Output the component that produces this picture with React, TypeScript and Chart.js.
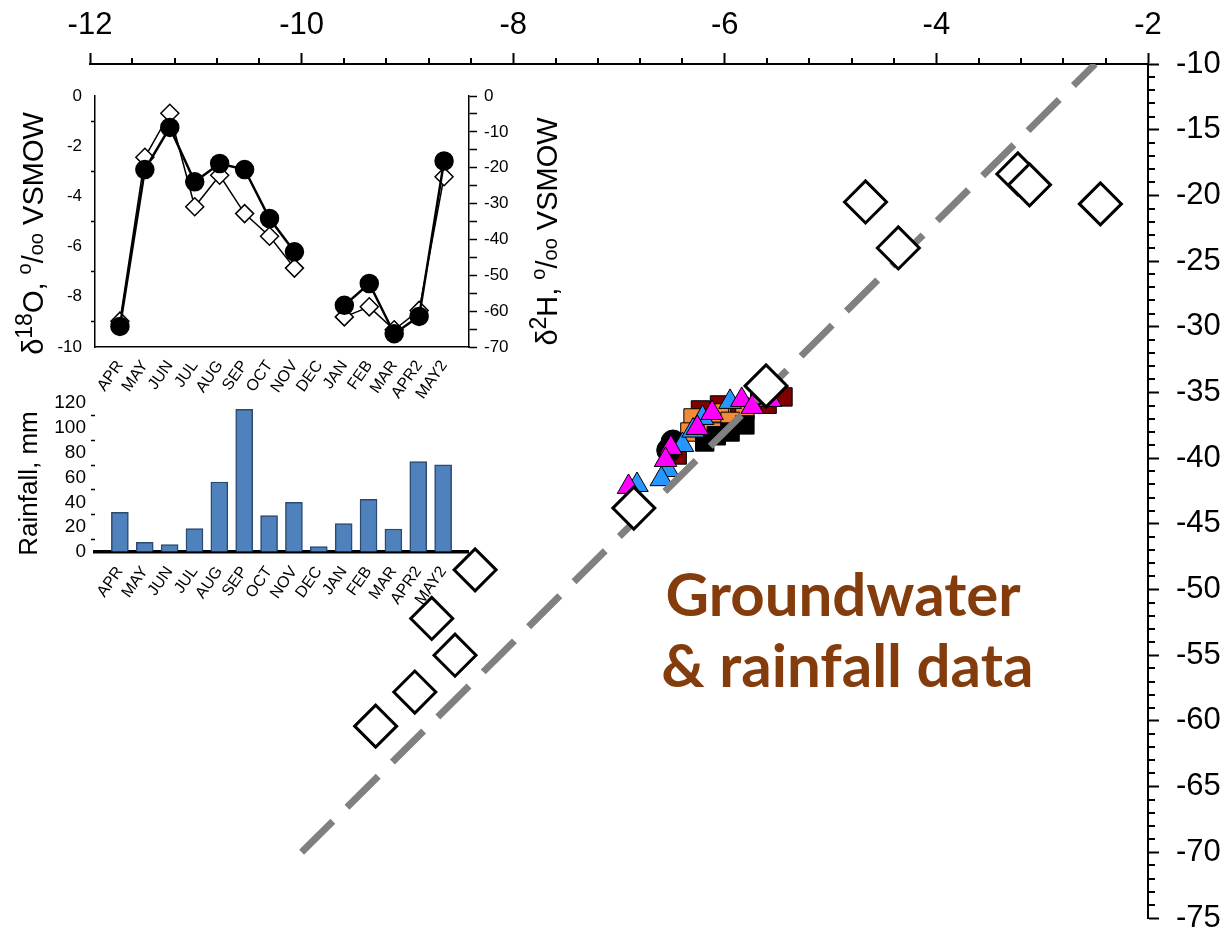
import React, { useEffect, useRef } from 'react';
import { Chart, registerables } from 'chart.js';

Chart.register(...registerables);

const FONT = "'Liberation Sans', Arial, sans-serif";

// ---------- Inset data ----------
const months = ['APR', 'MAY', 'JUN', 'JUL', 'AUG', 'SEP', 'OCT', 'NOV', 'DEC', 'JAN', 'FEB', 'MAR', 'APR2', 'MAY2'];
const monthPos = [1, 2, 3, 4, 5, 6, 7, 8, 9, 10, 11, 12, 13, 14];
const d18O = [-9.18, -2.93, -1.25, -3.42, -2.69, -2.93, -4.88, -6.21, null, -8.34, -7.47, -9.47, -8.78, -2.59];
const d2H = [-62.8, -17.1, -4.8, -30.9, -22.1, -32.8, -39.1, -48.0, null, -61.6, -58.8, -65.2, -59.8, -22.5];
const rainfall = [32, 7.8, 5.9, 18.8, 56.4, 114.9, 29.3, 40, 4.3, 22.8, 42.4, 18.5, 72.8, 70.3];

// ---------- Main chart data ----------
const rainX = [-2.45, -3.23, -3.12, -4.67, -4.36, -5.61, -6.86, -8.36, -8.77, -8.55, -8.93, -9.3];
const rainY = [-20.65, -18.37, -19.2, -20.5, -24.0, -34.5, -43.8, -48.5, -52.2, -55.0, -57.8, -60.4];

const gmwlX = [-10, -2.5];
const gmwlY = [-70, -10];

const maroonX = [-5.45, -5.86, -6.05, -6.23, -5.67, -6.45, -5.6];
const maroonY = [-35.34, -36.1, -35.95, -36.33, -35.57, -39.76, -35.9];

const orangeX = [-6.3, -6.05, -6.11, -5.81, -6.33, -5.95];
const orangeY = [-36.94, -36.56, -38.01, -36.33, -38.01, -37.2];

const blackSqX = [-6.19, -5.95, -5.81, -6.08];
const blackSqY = [-38.77, -38.01, -37.47, -38.3];

const circleX = [-6.49, -6.53];
const circleY = [-38.77, -39.4];

const blueX = [-5.95, -6.21, -6.4, -6.54, -6.83, -5.67, -6.3, -6.6];
const blueY = [-35.72, -36.94, -39.0, -40.9, -42.04, -35.34, -37.9, -41.6];

const magentaX = [-5.84, -5.74, -6.12, -6.26, -6.51, -6.56, -6.91, -5.57];
const magentaY = [-35.57, -36.1, -36.56, -37.7, -39.22, -40.14, -42.19, -35.57];

const mainTitle1 = 'Groundwater';
const mainTitle2 = '& rainfall data';

const zip = (xs: number[], ys: (number | null)[]) => xs.map((x, i) => ({ x, y: ys[i] }));

type Seg = { t: string; size: number; dy?: number };
function drawRotated(ctx: CanvasRenderingContext2D, segs: Seg[], x: number, cy: number) {
  ctx.save();
  ctx.translate(x, cy);
  ctx.rotate(-Math.PI / 2);
  ctx.fillStyle = '#000';
  ctx.textBaseline = 'alphabetic';
  ctx.textAlign = 'left';
  let total = 0;
  const widths = segs.map((s) => {
    ctx.font = `${s.size}px ${FONT}`;
    const w = ctx.measureText(s.t).width;
    total += w;
    return w;
  });
  let pos = -total / 2;
  segs.forEach((s, i) => {
    ctx.font = `${s.size}px ${FONT}`;
    ctx.fillText(s.t, pos, s.dy || 0);
    pos += widths[i];
  });
  ctx.restore();
}

function MainChart() {
  const ref = useRef<HTMLCanvasElement>(null);
  useEffect(() => {
    const minorPlugin = {
      id: 'minorTicks',
      afterDraw(chart: any) {
        const { ctx } = chart;
        const x = chart.scales.x;
        const y = chart.scales.y;
        ctx.save();
        ctx.strokeStyle = '#000';
        ctx.lineWidth = 2;
        ctx.beginPath();
        for (let i = 0; i <= 25; i++) {
          if (i % 5 === 0) continue;
          const v = -12 + i * 0.4;
          const px = Math.round(x.getPixelForValue(v));
          ctx.moveTo(px, x.bottom);
          ctx.lineTo(px, x.bottom - 6);
        }
        for (let v = -75; v <= -10; v++) {
          if (v % 5 === 0) continue;
          const py = Math.round(y.getPixelForValue(v));
          ctx.moveTo(y.left, py);
          ctx.lineTo(y.left + 7, py);
        }
        ctx.stroke();
        ctx.restore();
      },
    };
    const textPlugin = {
      id: 'gwText',
      afterDraw(chart: any) {
        const { ctx } = chart;
        const x = chart.scales.x;
        const y = chart.scales.y;
        ctx.save();
        ctx.fillStyle = '#843C0C';
        ctx.font = "bold 60px Lato, 'Open Sans', sans-serif";
        ctx.textBaseline = 'alphabetic';
        ctx.textAlign = 'left';
        ctx.fillText(mainTitle1, x.getPixelForValue(-6.56), y.getPixelForValue(-52.0));
        ctx.fillText(mainTitle2, x.getPixelForValue(-6.6), y.getPixelForValue(-57.4));
        ctx.restore();
      },
    };
    const gw = (label: string, xs: number[], ys: number[], style: string, radius: number, color: string, order: number) => ({
      label,
      data: zip(xs, ys),
      pointStyle: style,
      pointRadius: radius,
      backgroundColor: color,
      borderColor: '#000',
      borderWidth: 1,
      order,
    });
    const chart = new Chart(ref.current!, {
      type: 'scatter',
      data: {
        datasets: [
          {
            label: 'Rainfall',
            data: zip(rainX, rainY),
            pointStyle: 'rectRot',
            pointRadius: 21,
            backgroundColor: '#fff',
            borderColor: '#000',
            borderWidth: 3,
            order: 0,
          },
          {
            label: 'GMWL',
            data: zip(gmwlX, gmwlY),
            showLine: true,
            borderColor: '#808080',
            borderWidth: 7,
            borderDash: [44, 20],
            borderCapStyle: 'butt',
            pointRadius: 0,
            order: 1,
          },
          gw('GW magenta', magentaX, magentaY, 'triangle', 13, '#FF00FF', 2),
          gw('GW blue', blueX, blueY, 'triangle', 13, '#2896FF', 3),
          gw('GW circle', circleX, circleY, 'circle', 12, '#000', 4),
          gw('GW black', blackSqX, blackSqY, 'rect', 13, '#000', 5),
          gw('GW orange', orangeX, orangeY, 'rect', 13, '#F28C38', 6),
          gw('GW maroon', maroonX, maroonY, 'rect', 13, '#7F0000', 7),
        ] as any,
      },
      options: {
        responsive: false,
        animation: false,
        layout: { autoPadding: false, padding: { left: 90, top: 0, right: 0, bottom: 14 } },
        plugins: { legend: { display: false }, tooltip: { enabled: false } },
        scales: {
          x: {
            type: 'linear',
            position: 'top',
            min: -12,
            max: -2,
            ticks: { stepSize: 2, font: { size: 31, family: FONT }, color: '#000', padding: 9, maxRotation: 0, autoSkip: false, callback: (v: any) => String(v) },
            grid: { drawOnChartArea: false, tickLength: 11, tickColor: '#000', tickWidth: 2 },
            border: { color: '#000', width: 2 },
            afterFit: (s: any) => { s.height = 64; s.paddingLeft = 0; s.paddingRight = 0; },
          },
          y: {
            type: 'linear',
            position: 'right',
            min: -75,
            max: -10,
            ticks: { stepSize: 5, font: { size: 31, family: FONT }, color: '#000', padding: 17, autoSkip: false, callback: (v: any) => String(v) },
            grid: { drawOnChartArea: false, tickLength: 11, tickColor: '#000', tickWidth: 2 },
            border: { color: '#000', width: 2 },
            afterFit: (s: any) => { s.width = 81; s.paddingTop = 0; s.paddingBottom = 0; },
          },
        },
      } as any,
      plugins: [minorPlugin, textPlugin],
    });
    return () => chart.destroy();
  }, []);
  return <canvas ref={ref} width={1229} height={932} style={{ position: 'absolute', left: 0, top: 0 }} />;
}

function IsotopeInset() {
  const ref = useRef<HTMLCanvasElement>(null);
  useEffect(() => {
    const titlePlugin = {
      id: 'isoTitles',
      afterDraw(chart: any) {
        const { ctx, chartArea } = chart;
        const cy = (chartArea.top + chartArea.bottom) / 2 + 12;
        drawRotated(ctx, [
          { t: 'δ', size: 29 },
          { t: '18', size: 23, dy: -11 },
          { t: 'O, ', size: 29 },
          { t: 'o', size: 20, dy: -12 },
          { t: '/', size: 29 },
          { t: 'oo', size: 20 },
          { t: ' VSMOW', size: 29 },
        ], chartArea.left - 52, cy);
        drawRotated(ctx, [
          { t: 'δ', size: 29 },
          { t: '2', size: 23, dy: -11 },
          { t: 'H, ', size: 29 },
          { t: 'o', size: 20, dy: -12 },
          { t: '/', size: 29 },
          { t: 'oo', size: 20 },
          { t: ' VSMOW', size: 29 },
        ], chartArea.right + 88, cy - 2);
      },
    };
    const chart = new Chart(ref.current!, {
      type: 'line',
      data: {
        datasets: [
          {
            label: 'δ18O',
            data: zip(monthPos, d18O),
            yAxisID: 'y',
            borderColor: '#000',
            borderWidth: 2.5,
            pointRadius: 8.5,
            pointBackgroundColor: '#000',
            pointBorderColor: '#000',
            spanGaps: false,
            order: 0,
          },
          {
            label: 'δ2H',
            data: zip(monthPos, d2H),
            yAxisID: 'y2',
            borderColor: '#000',
            borderWidth: 1.5,
            pointStyle: 'rectRot',
            pointRadius: 9,
            pointBackgroundColor: '#fff',
            pointBorderColor: '#000',
            pointBorderWidth: 1.5,
            spanGaps: false,
            order: 1,
          },
        ] as any,
      },
      options: {
        responsive: false,
        animation: false,
        layout: { autoPadding: false, padding: { left: 0, top: 16, right: 0, bottom: 0 } },
        plugins: { legend: { display: false }, tooltip: { enabled: false } },
        scales: {
          x: {
            type: 'linear',
            min: 0,
            max: 15,
            ticks: { stepSize: 1, autoSkip: false, maxRotation: 55, minRotation: 55, padding: 2, font: { size: 16, family: FONT }, color: '#000', callback: (v: any) => months[v - 1] ?? '' },
            grid: { display: false },
            border: { display: true, color: '#000', width: 1.5 },
            afterFit: (s: any) => { s.height = 53; s.paddingLeft = 0; s.paddingRight = 0; },
          },
          y: {
            type: 'linear',
            position: 'left',
            min: -10,
            max: 0,
            ticks: { stepSize: 1, padding: 9, font: { size: 17, family: FONT }, color: '#000', autoSkip: false, callback: (v: any) => (v % 2 === 0 ? String(v) : '') },
            grid: { drawOnChartArea: false, tickLength: 4, tickWidth: 1.5, tickColor: (c: any) => (c.tick && c.tick.value % 2 !== 0 ? '#000' : 'rgba(0,0,0,0)') },
            border: { display: true, color: '#000', width: 1.5 },
            afterFit: (s: any) => { s.width = 95; s.paddingTop = 0; s.paddingBottom = 0; },
          },
          y2: {
            type: 'linear',
            position: 'right',
            min: -70,
            max: 0,
            ticks: { stepSize: 5, padding: 7, font: { size: 17, family: FONT }, color: '#000', autoSkip: false, callback: (v: any) => (v % 10 === 0 ? String(v) : '') },
            grid: { drawOnChartArea: false, tickLength: 8, tickWidth: 1.5, tickColor: '#000' },
            border: { display: true, color: '#000', width: 1.5 },
            afterFit: (s: any) => { s.width = 111; s.paddingTop = 0; s.paddingBottom = 0; },
          },
        },
      } as any,
      plugins: [titlePlugin],
    });
    return () => chart.destroy();
  }, []);
  return <canvas ref={ref} width={580} height={320} style={{ position: 'absolute', left: 0, top: 80 }} />;
}

function RainInset() {
  const ref = useRef<HTMLCanvasElement>(null);
  useEffect(() => {
    const titlePlugin = {
      id: 'rainTitle',
      afterDraw(chart: any) {
        const { ctx, chartArea } = chart;
        drawRotated(ctx, [{ t: 'Rainfall, mm', size: 26 }], chartArea.left - 58, (chartArea.top + chartArea.bottom) / 2 + 6);
      },
    };
    const chart = new Chart(ref.current!, {
      type: 'bar',
      data: {
        datasets: [
          {
            label: 'Rainfall, mm',
            data: zip(monthPos, rainfall),
            backgroundColor: '#4F81BD',
            borderColor: '#2B4A6F',
            borderWidth: 1.5,
            barThickness: 17,
          },
        ] as any,
      },
      options: {
        responsive: false,
        animation: false,
        layout: { autoPadding: false, padding: { left: 0, top: 33, right: 112, bottom: 0 } },
        plugins: { legend: { display: false }, tooltip: { enabled: false } },
        scales: {
          x: {
            type: 'linear',
            offset: false,
            min: 0,
            max: 15,
            ticks: { stepSize: 1, autoSkip: false, maxRotation: 55, minRotation: 55, padding: 3, font: { size: 16, family: FONT }, color: '#000', callback: (v: any) => months[v - 1] ?? '' },
            grid: { display: false, offset: false },
            border: { display: true, color: '#000', width: 3.5 },
            afterFit: (s: any) => { s.height = 58; s.paddingLeft = 0; s.paddingRight = 0; },
          },
          y: {
            type: 'linear',
            position: 'left',
            min: 0,
            max: 120,
            ticks: { stepSize: 10, padding: 5, font: { size: 19, family: FONT }, color: '#000', autoSkip: false, callback: (v: any) => (v % 20 === 0 ? String(v) : '') },
            grid: { drawOnChartArea: false, tickLength: 4, tickWidth: 1.5, tickColor: (c: any) => (c.tick && c.tick.value % 20 !== 0 ? '#000' : 'rgba(0,0,0,0)') },
            border: { display: false },
            afterFit: (s: any) => { s.width = 95; s.paddingTop = 0; s.paddingBottom = 0; },
          },
        },
      } as any,
      plugins: [titlePlugin],
    });
    return () => chart.destroy();
  }, []);
  return <canvas ref={ref} width={580} height={240} style={{ position: 'absolute', left: 0, top: 370 }} />;
}

export default function App() {
  return (
    <div style={{ position: 'absolute', left: 0, top: 0, width: 1229, height: 932, background: '#fff' }}>
      <MainChart />
      <IsotopeInset />
      <RainInset />
    </div>
  );
}
